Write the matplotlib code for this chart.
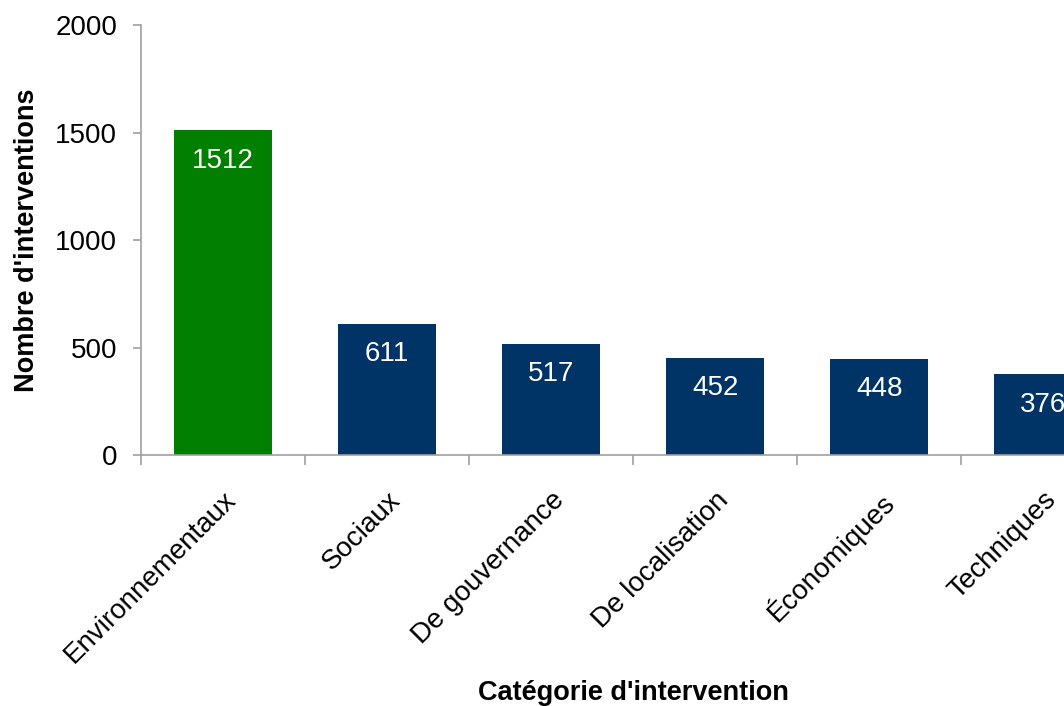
import matplotlib.pyplot as plt

plt.rcParams['font.family'] = ['Liberation Sans', 'DejaVu Sans']

categories = ['Environnementaux', 'Sociaux', 'De gouvernance', 'De localisation', 'Économiques', 'Techniques']
counts = [1512, 611, 517, 452, 448, 376]
colors = ['#007f00', '#003366', '#003366', '#003366', '#003366', '#003366']

fig = plt.figure(figsize=(10.64, 7.06), dpi=100)
# axes deliberately run past the right edge of the figure
ax = fig.add_axes([0.1325, 0.3555, 0.925, 0.609])

x = range(len(categories))
bars = ax.bar(x, counts, width=0.6, color=colors, edgecolor='none')

for xi, v in zip(x, counts):
    ax.annotate(str(v), (xi, v), xytext=(0, -22), textcoords='offset points',
                ha='center', va='center', color='white', fontsize=20)

ax.set_xlim(-0.5, len(categories) - 0.5)
ax.set_ylim(0, 2000)
ax.set_yticks([0, 500, 1000, 1500, 2000])

# category labels at bar centres, tick marks on the boundaries
ax.set_xticks(list(x))
ax.set_xticklabels(categories, rotation=45, ha='right', rotation_mode='anchor', fontsize=20)
ax.set_xticks([i - 0.5 for i in range(len(categories) + 1)], minor=True)
ax.tick_params(axis='x', which='major', length=0, pad=23)
ax.tick_params(axis='x', which='minor', length=7, color='#a0a0a0', width=1.2)
ax.tick_params(axis='y', length=6, color='#a0a0a0', width=1.2, pad=11, labelsize=20)

for side in ['top', 'right']:
    ax.spines[side].set_visible(False)
for side in ['left', 'bottom']:
    ax.spines[side].set_color('#a0a0a0')
    ax.spines[side].set_linewidth(1.2)

ax.set_ylabel("Nombre d'interventions", fontsize=19.5, fontweight='bold', labelpad=11)
fig.text(0.595, 0.018, "Catégorie d'intervention", ha='center', va='center',
         fontsize=19.5, fontweight='bold')

plt.savefig('out.png', dpi=100)
